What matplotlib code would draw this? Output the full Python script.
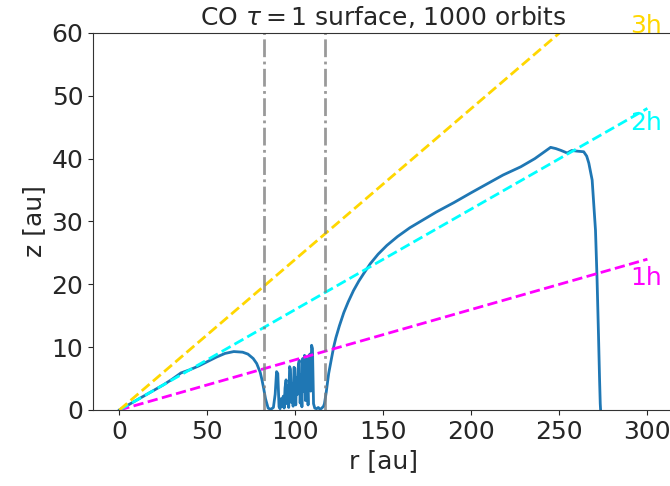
import numpy as np
import matplotlib
matplotlib.use("Agg")
import matplotlib.pyplot as plt

# tau=1 surface
r_inner = [0, 5, 10, 15, 20, 25, 30, 35, 40, 45, 50, 55, 60, 65, 70, 73, 76, 78, 80, 81, 82, 83, 84]
z_inner = [0, 0.8, 1.6, 2.4, 3.2, 4.0, 4.9, 5.9, 6.4, 7.0, 7.7, 8.4, 9.0, 9.3, 9.2, 8.9, 8.2, 7.4, 6.0, 4.8, 3.4, 1.8, 0.8]

r_gap = [84.5, 86, 87.5, 88.5, 89.3, 90, 90.7, 91.3, 91.9, 92.5, 93.1, 93.6, 94.1, 94.7, 95.2,
         95.7, 96.2, 96.7, 97.2, 97.7, 98.2, 98.7, 99.2, 99.7, 100.2, 100.7, 101.2, 101.7,
         102.2, 102.7, 103.2, 103.7, 104.2, 104.7, 105.2, 105.7, 106.2, 106.7, 107.2, 107.7,
         108.2, 108.7, 109.2, 109.7, 110.3, 111, 112, 113, 114, 115, 116]
z_gap = [0.3, 0.1, 0.4, 2.5, 6.1, 5.8, 0.5, 0.2, 1.8, 0.6, 2.2, 0.3, 3.5, 4.8, 1.0,
         3.9, 0.4, 6.9, 6.5, 1.2, 4.2, 0.6, 6.8, 6.6, 0.8, 5.1, 2.5, 7.3,
         7.9, 1.1, 5.6, 0.5, 8.2, 3.0, 8.7, 1.5, 8.3, 4.4, 0.8, 7.9,
         8.9, 3.0, 10.3, 9.8, 1.0, 0.3, 0.2, 0.4, 0.1, 0.3, 0.6]

r_outer = [116.5, 117.5, 118.9, 120.5, 121.8, 123, 125, 127.5, 130, 133, 136, 139, 142.6, 147,
           152, 158, 165, 171, 180, 190, 200, 209, 218, 228, 236, 242, 245, 248, 251, 254.4, 257,
           260, 263.8, 265.5, 266.7, 268.6, 270.5, 271.4, 272.2, 272.8, 273.2, 273.4]
z_outer = [1.0, 2.8, 5.8, 8.2, 10.1, 11.5, 13.4, 15.5, 17.2, 19.0, 20.5, 21.8, 23.3, 24.8,
           26.2, 27.6, 29.0, 30.0, 31.5, 33.0, 34.6, 36.0, 37.4, 38.7, 40.0, 41.2, 41.8, 41.6, 41.3, 40.9, 41.3,
           41.2, 41.1, 40.4, 39.3, 36.6, 28.6, 20.7, 12.0, 5.0, 1.0, 0.0]

r = np.array(r_inner + r_gap + r_outer)
z = np.array(z_inner + z_gap + z_outer)

# scale heights
h_mult = [1, 2, 3]
h_colors = ['magenta', 'cyan', 'gold']
h_slope = 0.08
gap_edges = [82, 117]

txt = '#262626'
plt.rcParams['text.color'] = txt
plt.rcParams['axes.labelcolor'] = txt
plt.rcParams['xtick.color'] = txt
plt.rcParams['ytick.color'] = txt
plt.rcParams['axes.edgecolor'] = '#333333'

fig = plt.figure(figsize=(6.7, 4.86), dpi=100)
ax = fig.add_axes([0.1388, 0.1564, 0.8669, 0.7757])

ax.plot(r, z, color='C0', lw=2)

rr = np.array([0, 300])
for n, c in zip(h_mult, h_colors):
    ax.plot(rr, n*h_slope*rr, '--', color=c, lw=2)

for xe in gap_edges:
    ax.axvline(xe, color='gray', ls='-.', lw=2, alpha=0.8)

fs = 18
ax.text(290, 19.9, '1h', color='magenta', fontsize=fs)
ax.text(290, 44.6, '2h', color='cyan', fontsize=fs)
ax.text(290, 60, '3h', color='gold', fontsize=fs, clip_on=False)

ax.set_xlim(-15, 315)
ax.set_ylim(0, 60)
ax.set_xticks([0, 50, 100, 150, 200, 250, 300])
ax.set_yticks([0, 10, 20, 30, 40, 50, 60])
ax.tick_params(labelsize=fs)
ax.set_xlabel('r [au]', fontsize=fs)
ax.set_ylabel('z [au]', fontsize=fs)
ax.set_title(r'CO $\tau=1$ surface, 1000 orbits', fontsize=fs)

fig.savefig('out.png', dpi=100)
